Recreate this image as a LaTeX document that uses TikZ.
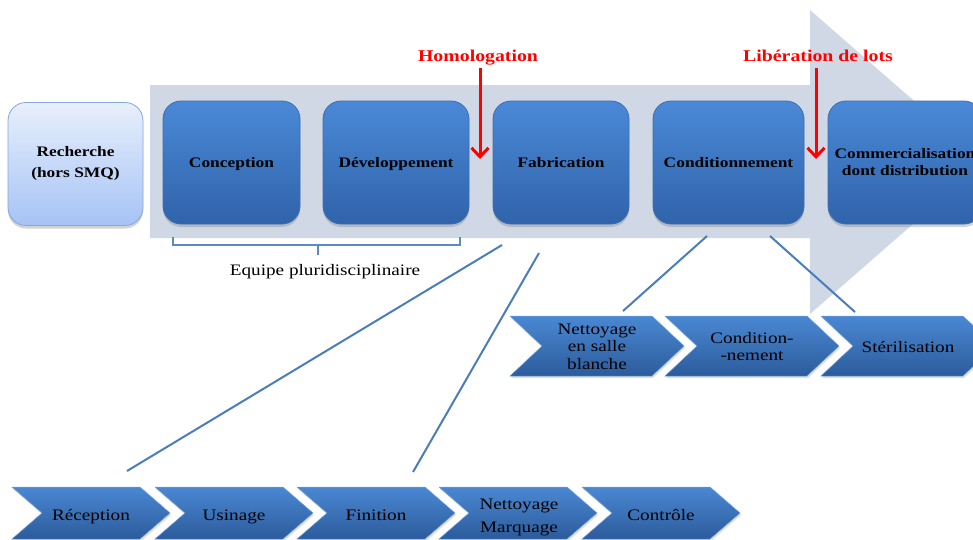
\documentclass[tikz,border=0pt]{standalone}
\usepackage{fontspec}
\setmainfont{Liberation Serif}[FakeStretch=1.2]
\usetikzlibrary{arrows.meta,shadows,calc}
\definecolor{bgarrow}{HTML}{D0D8E6}
\definecolor{boxtop}{HTML}{4A89D7}
\definecolor{boxbot}{HTML}{3063AA}
\definecolor{boxedge}{HTML}{3A6DB5}
\definecolor{rtop}{HTML}{E8EFFC}
\definecolor{rbot}{HTML}{A6C3F5}
\definecolor{redge}{HTML}{86A7DA}
\definecolor{linkblue}{HTML}{4A7EBB}
\definecolor{chevtop}{HTML}{4A88D3}
\definecolor{chevbot}{HTML}{2C5B9B}
\definecolor{redlab}{HTML}{FF0000}
\newcommand\chevshape[5]{%
  \path[chevfill] (#1,#2-#4) -- ++(#3,0) -- ++(#5,#4) -- ++(-#5,#4) -- ++(-#3,0) -- ++(#5,-#4) -- cycle;}
\tikzset{
  stage/.style={rounded corners=18pt, top color=boxtop, bottom color=boxbot, draw=boxedge,
    line width=0.8pt, minimum height=123pt, inner sep=0pt, align=center, text=black,
    font=\fontsize{14.5}{17}\selectfont\bfseries,
    drop shadow={shadow xshift=0pt, shadow yshift=-3pt, opacity=0.35}},
  oneline/.style={text height=10.5pt, text depth=1.5pt},
  research/.style={stage, top color=rtop, bottom color=rbot, draw=redge},
  chevfill/.style={top color=chevtop, bottom color=chevbot, draw=chevtop!80!white, line width=0.5pt,
    drop shadow={shadow xshift=1pt, shadow yshift=-2pt, opacity=0.25}},
  chevtext/.style={inner sep=0pt, align=center, text=black, font=\fontsize{16}{17.5}\selectfont},
  chevone/.style={chevtext, text height=11.5pt, text depth=3.5pt},
  redlabel/.style={inner sep=0pt, text=redlab, font=\fontsize{16.5}{19}\selectfont\bfseries,
    text height=12pt, text depth=3.5pt},
  redarrow/.style={draw=redlab, line width=3pt, -{Straight Barb[length=9pt,width=17pt]}},
  link/.style={draw=linkblue, line width=2pt},
  bracket/.style={draw=linkblue!90!white, line width=2pt},
}
\begin{document}
\begin{tikzpicture}[x=1pt,y=-1pt]
\useasboundingbox (0,0) rectangle (973,539);
\clip (0,0) rectangle (973,539);
% big background arrow
\fill[bgarrow] (150,85) -- (810,85) -- (810,10) -- (984,162) -- (810,314) -- (810,238) -- (150,238) -- cycle;
% stage boxes
\node[research, minimum width=135pt] (rech) at (75.5,164) {Recherche\\[4pt](hors SMQ)};
\node[stage, oneline, minimum width=137pt] (conc) at (231.5,162.5) {Conception};
\node[stage, oneline, minimum width=146pt] (dev) at (396,162.5) {Développement};
\node[stage, oneline, minimum width=136pt] (fab) at (561,162.5) {Fabrication};
\node[stage, oneline, minimum width=151pt] (cond) at (728.5,162.5) {Conditionnement};
\node[stage, minimum width=154pt] (comm) at (905,162.5) {Commercialisation\\dont distribution};
% red milestones
\node[redlabel] (homo) at (478,57.5) {Homologation};
\node[redlabel] (lib) at (818,57.5) {Libération de lots};
\coordinate (homoTip) at (480,159);
\coordinate (libTip) at (816,159);
\draw[redarrow] ([yshift=-3pt]homo.south -| homoTip) -- (homoTip);
\draw[redarrow] ([yshift=-3pt]lib.south -| libTip) -- (libTip);
% bracket
\draw[bracket] (173,237) -- (173,245) -- (460,245) -- (460,237) (318,245) -- (318,255);
\node[chevone] (equipe) at (325,271) {Equipe pluridisciplinaire};
% upper chevrons
\chevshape{510}{346}{142}{30}{32}
\chevshape{665}{346}{142}{30}{32}
\chevshape{821}{346}{142}{30}{32}
\node[chevtext] (nsb) at (597,346.5) {Nettoyage\\en salle\\blanche};
\node[chevtext] (cnm) at (752,346.5) {Condition-\\-nement};
\node[chevone] (ster) at (908,348) {Stérilisation};
% lower chevrons
\chevshape{12}{513}{128}{26}{30}
\chevshape{155}{513}{128}{26}{30}
\chevshape{297}{513}{128}{26}{30}
\chevshape{439}{513}{128}{26}{30}
\chevshape{582}{513}{128}{26}{30}
\node[chevone] (recp) at (91,516) {Réception};
\node[chevone] (usi) at (234,516) {Usinage};
\node[chevone] (fin) at (376,516) {Finition};
\node[chevtext, font=\fontsize{16}{23}\selectfont] (nm) at (519,517) {Nettoyage\\Marquage};
\node[chevone] (ctrl) at (661,516) {Contrôle};
% connector lines
\coordinate (l1a) at (502,245); \coordinate (l1b) at (127,471);
\coordinate (l2a) at (539,253); \coordinate (l2b) at (413,472);
\coordinate (l3a) at (707,236); \coordinate (l3b) at (623,311);
\coordinate (l4a) at (770,236); \coordinate (l4b) at (855,312);
\draw[link] (l1a) -- (l1b);
\draw[link] (l2a) -- (l2b);
\draw[link] (l3a) -- (l3b);
\draw[link] (l4a) -- (l4b);
\end{tikzpicture}
\end{document}
